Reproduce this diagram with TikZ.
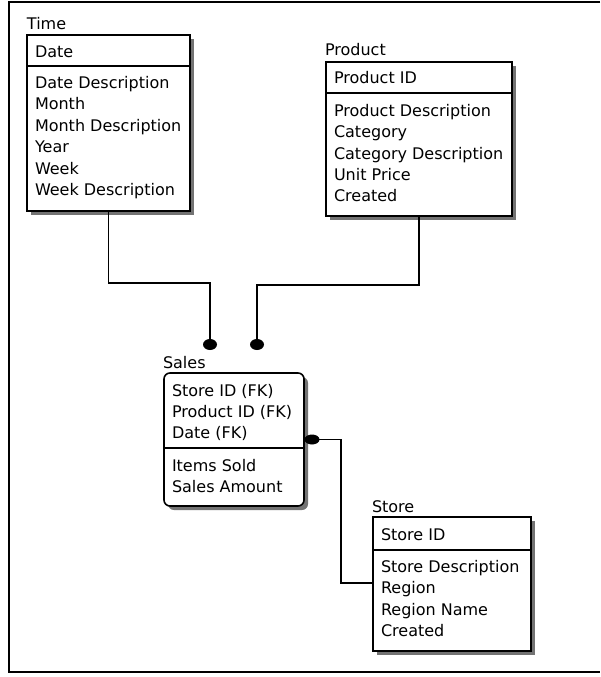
\documentclass[tikz,border=0pt]{standalone}
\usepackage{fontspec}
\setmainfont{DejaVu Sans}
\usetikzlibrary{shapes.geometric,shadows}
\begin{document}
\begin{tikzpicture}[x=1pt,y=-1pt,
  font=\fontsize{16}{19}\selectfont,
  entbox/.style={draw, fill=white, line width=1.6pt, inner sep=0pt, outer sep=0pt,
    anchor=north west,
    general shadow={fill=black!55, shadow xshift=4pt, shadow yshift=-4pt}},
  sepline/.style={line width=1.6pt},
  attr/.style={anchor=base west, inner sep=0pt, outer sep=0pt},
  title/.style={anchor=base west, inner sep=0pt, outer sep=0pt},
  link/.style={line width=1.6pt},
  fkdot/.style={fill=black, draw=none, ellipse, minimum width=14pt, minimum height=11pt, inner sep=0pt}
]
\useasboundingbox (0,0) rectangle (600,677);

% frame
\draw[line width=2pt] (600,2) -- (9,2) -- (9,672) -- (600,672);

% ---- Time ----
\node[title] (timetitle) at (27,30) {Time};
\node[entbox, minimum width=163pt, minimum height=176pt] (time) at (27,35) {};
\draw[sepline] (time.west |- 0,66) -- (time.east |- 0,66);
\node[attr] (tkey) at (35,57.5) {Date};
\foreach \t [count=\i from 0] in {Date Description,Month,Month Description,Year,Week,Week Description}
  \node[attr] (ta\i) at (35,88.5+21.4*\i) {\t};

% ---- Product ----
\node[title] (prodtitle) at (325,56) {Product};
\node[entbox, minimum width=186pt, minimum height=154pt] (product) at (326,62) {};
\draw[sepline] (product.west |- 0,93) -- (product.east |- 0,93);
\node[attr] (pkey) at (334,83.5) {Product ID};
\foreach \t [count=\i from 0] in {Product Description,Category,Category Description,Unit Price,Created}
  \node[attr] (pa\i) at (334,116.5+21.3*\i) {\t};

% ---- Sales ----
\node[title] (salestitle) at (163,368) {Sales};
\node[entbox, rounded corners=6pt, minimum width=140pt, minimum height=133pt] (sales) at (164,373) {};
\draw[sepline] (sales.west |- 0,448) -- (sales.east |- 0,448);
\foreach \t [count=\i from 0] in {Store ID (FK),Product ID (FK),Date (FK)}
  \node[attr] (sk\i) at (172,396.5+21*\i) {\t};
\foreach \t [count=\i from 0] in {Items Sold,Sales Amount}
  \node[attr] (sa\i) at (172,471.5+21*\i) {\t};

% ---- Store ----
\node[title] (storetitle) at (372,512) {Store};
\node[entbox, minimum width=158pt, minimum height=134pt] (store) at (373,517) {};
\draw[sepline] (store.west |- 0,550) -- (store.east |- 0,550);
\node[attr] (stkey) at (381,540.5) {Store ID};
\foreach \t [count=\i from 0] in {Store Description,Region,Region Name,Created}
  \node[attr] (sta\i) at (381,572.5+21.3*\i) {\t};

% ---- relationships ----
\node[fkdot] (tdot) at (210,344.5) {};
\node[fkdot] (pdot) at (257,344.5) {};
\node[fkdot, minimum width=15pt, minimum height=10pt] (sdot) at (312,439.5) {};

\coordinate (tbend) at (109,283);
\coordinate (pbend) at (419,285);
\coordinate (sbend) at (341,439.5);
\coordinate (stin) at (373,583);

\draw[link] (time.south) -- (time.south |- tbend) -| (tdot.center);
\draw[link] (product.south) -- (product.south |- pbend) -| (pdot.center);
\draw[link] (sdot.center) -- (sbend) |- (stin);
\end{tikzpicture}
\end{document}
